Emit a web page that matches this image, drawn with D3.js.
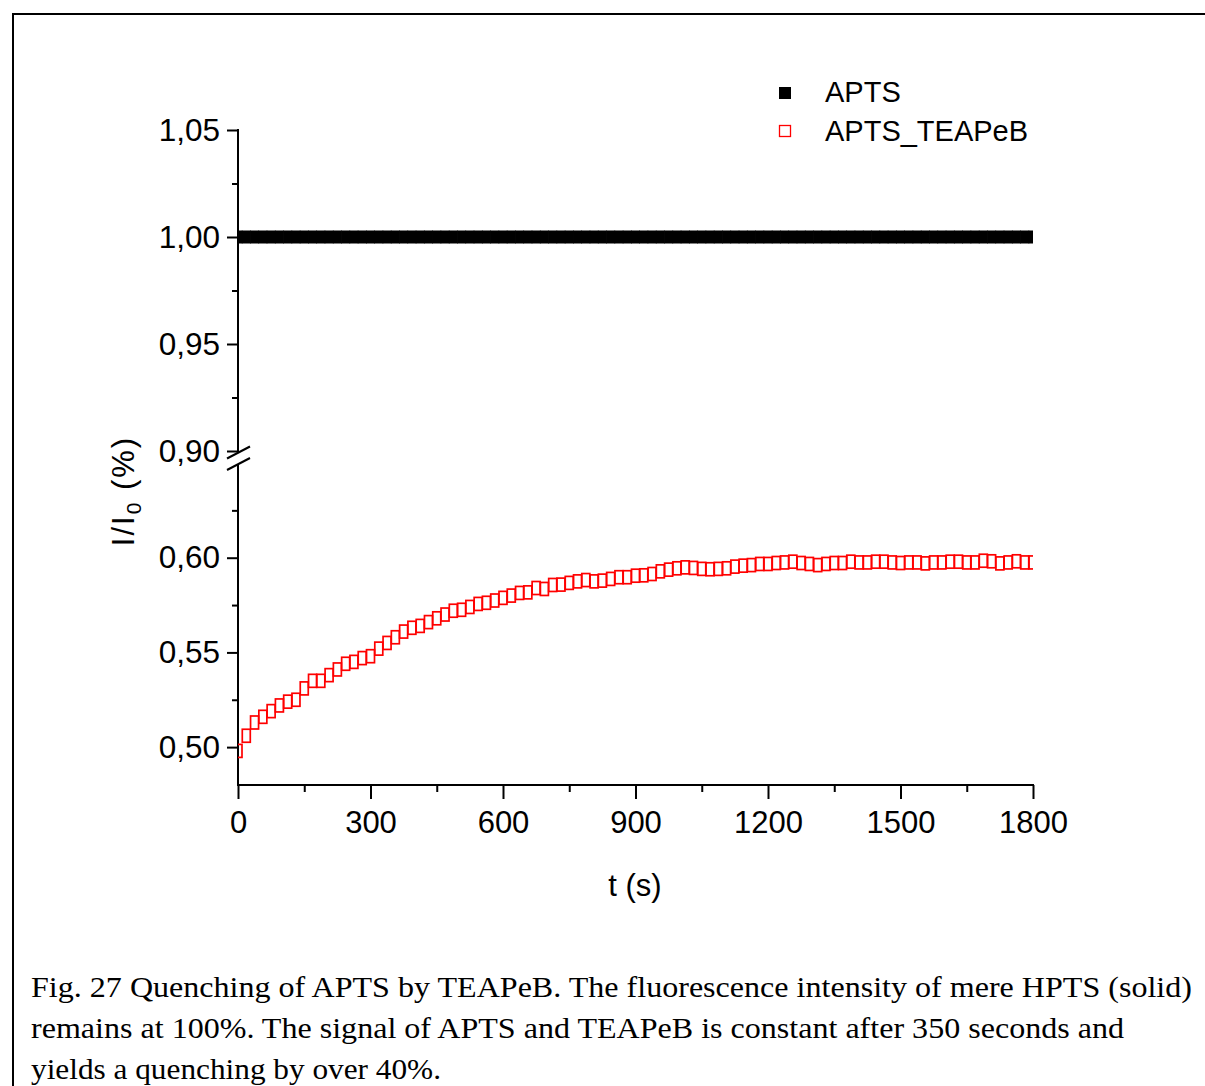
<!DOCTYPE html>
<html>
<head>
<meta charset="utf-8">
<script src="https://cdn.jsdelivr.net/npm/d3@7"></script>
<style>
  html, body { margin: 0; padding: 0; background: #fff; }
  svg { display: block; }
  .axis text { font-family: "Liberation Sans", Arial, sans-serif; font-size: 31.5px; fill: #000; }
  .axis line, .axis path { stroke: #000; stroke-width: 2; }
</style>
</head>
<body>
<svg id="chart" width="1205" height="1086"></svg>
<script>
// Sampling times (s)
const times = [0, 18.75, 37.5, 56.25, 75, 93.75, 112.5, 131.25, 150, 168.75, 187.5, 206.25, 225, 243.75, 262.5, 281.25, 300, 318.75, 337.5, 356.25, 375, 393.75, 412.5, 431.25, 450, 468.75, 487.5, 506.25, 525, 543.75, 562.5, 581.25, 600, 618.75, 637.5, 656.25, 675, 693.75, 712.5, 731.25, 750, 768.75, 787.5, 806.25, 825, 843.75, 862.5, 881.25, 900, 918.75, 937.5, 956.25, 975, 993.75, 1012.5, 1031.25, 1050, 1068.75, 1087.5, 1106.25, 1125, 1143.75, 1162.5, 1181.25, 1200, 1218.75, 1237.5, 1256.25, 1275, 1293.75, 1312.5, 1331.25, 1350, 1368.75, 1387.5, 1406.25, 1425, 1443.75, 1462.5, 1481.25, 1500, 1518.75, 1537.5, 1556.25, 1575, 1593.75, 1612.5, 1631.25, 1650, 1668.75, 1687.5, 1706.25, 1725, 1743.75, 1762.5, 1781.25, 1800];

// APTS alone: relative intensity I/I0
const aptsValues = [1.00, 1.00, 1.00, 1.00, 1.00, 1.00, 1.00, 1.00, 1.00, 1.00, 1.00, 1.00, 1.00, 1.00, 1.00, 1.00, 1.00, 1.00, 1.00, 1.00, 1.00, 1.00, 1.00, 1.00, 1.00, 1.00, 1.00, 1.00, 1.00, 1.00, 1.00, 1.00, 1.00, 1.00, 1.00, 1.00, 1.00, 1.00, 1.00, 1.00, 1.00, 1.00, 1.00, 1.00, 1.00, 1.00, 1.00, 1.00, 1.00, 1.00, 1.00, 1.00, 1.00, 1.00, 1.00, 1.00, 1.00, 1.00, 1.00, 1.00, 1.00, 1.00, 1.00, 1.00, 1.00, 1.00, 1.00, 1.00, 1.00, 1.00, 1.00, 1.00, 1.00, 1.00, 1.00, 1.00, 1.00, 1.00, 1.00, 1.00, 1.00, 1.00, 1.00, 1.00, 1.00, 1.00, 1.00, 1.00, 1.00, 1.00, 1.00, 1.00, 1.00, 1.00, 1.00, 1.00, 1.00];

// APTS with TEAPeB: relative intensity I/I0
const teapebValues = [0.498, 0.506, 0.513, 0.516, 0.519, 0.522, 0.524, 0.525, 0.531, 0.535, 0.535, 0.538, 0.541, 0.544, 0.545, 0.547, 0.548, 0.552, 0.555, 0.558, 0.561, 0.563, 0.564, 0.566, 0.568, 0.570, 0.572, 0.5725, 0.574, 0.5756, 0.5762, 0.5774, 0.5788, 0.580, 0.5814, 0.5817, 0.584, 0.5835, 0.5856, 0.5858, 0.5867, 0.5875, 0.5882, 0.5875, 0.5879, 0.5888, 0.5897, 0.5897, 0.5905, 0.5907, 0.5914, 0.5928, 0.5937, 0.5944, 0.5949, 0.5946, 0.5941, 0.5939, 0.5941, 0.5944, 0.5953, 0.5958, 0.5961, 0.5967, 0.5967, 0.5972, 0.5975, 0.5979, 0.5972, 0.5967, 0.5961, 0.5967, 0.5972, 0.5972, 0.5979, 0.5975, 0.5975, 0.5979, 0.5979, 0.5975, 0.5972, 0.5975, 0.5975, 0.597, 0.5975, 0.5975, 0.5979, 0.5979, 0.5975, 0.5975, 0.5984, 0.5981, 0.597, 0.5975, 0.5981, 0.5975, 0.5975];

// Axis ticks
const xMajorTicks = [0, 300, 600, 900, 1200, 1500, 1800];
const xMinorTicks = [150, 450, 750, 1050, 1350, 1650];
const yUpperMajor = [0.90, 0.95, 1.00, 1.05];
const yUpperMinor = [0.925, 0.975, 1.025];
const yLowerMajor = [0.50, 0.55, 0.60];
const yLowerMinor = [0.525, 0.575, 0.625];

const seriesNames = ["APTS", "APTS_TEAPeB"];
const captionLines = [
  "Fig. 27 Quenching of APTS by TEAPeB. The fluorescence intensity of mere HPTS (solid)",
  "remains at 100%. The signal of APTS and TEAPeB is constant after 350 seconds and",
  "yields a quenching by over 40%."
];

const svg = d3.select("#chart");
const FONT = '"Liberation Sans", Arial, sans-serif';

// Outer frame
svg.append("rect")
  .attr("x", 13).attr("y", 14).attr("width", 1230).attr("height", 1200)
  .attr("fill", "none").attr("stroke", "#000").attr("stroke-width", 2);

// Scales: broken y axis with an upper and a lower segment
const x = d3.scaleLinear().domain([0, 1800]).range([238, 1033]);
const yUp = d3.scaleLinear().domain([0.90, 1.05]).range([451, 130]);
const yLo = d3.scaleLinear().domain([0.48, 0.65]).range([785, 463]);
const fmt = v => d3.format(".2f")(v).replace(".", ",");

// X axis
const gx = svg.append("g").attr("class", "axis").attr("transform", "translate(0,785)");
gx.call(d3.axisBottom(x).tickValues(xMajorTicks).tickSize(14).tickPadding(12).tickFormat(d3.format("d")));
gx.select(".domain").remove();
gx.selectAll("text").style("font-size", "31px");
const gx2 = svg.append("g").attr("class", "axis").attr("transform", "translate(0,785)");
gx2.call(d3.axisBottom(x).tickValues(xMinorTicks).tickSize(7).tickFormat(""));
gx2.select(".domain").remove();
svg.append("line").attr("x1", 237).attr("x2", 1034).attr("y1", 785).attr("y2", 785)
  .attr("stroke", "#000").attr("stroke-width", 2);

// Y axis, upper segment
const gyu = svg.append("g").attr("class", "axis").attr("transform", "translate(238,0)");
gyu.call(d3.axisLeft(yUp).tickValues(yUpperMajor).tickSize(11).tickPadding(7).tickFormat(fmt));
gyu.select(".domain").remove();
const gyu2 = svg.append("g").attr("class", "axis").attr("transform", "translate(238,0)");
gyu2.call(d3.axisLeft(yUp).tickValues(yUpperMinor).tickSize(6).tickFormat(""));
gyu2.select(".domain").remove();

// Y axis, lower segment
const gyl = svg.append("g").attr("class", "axis").attr("transform", "translate(238,0)");
gyl.call(d3.axisLeft(yLo).tickValues(yLowerMajor).tickSize(11).tickPadding(7).tickFormat(fmt));
gyl.select(".domain").remove();
const gyl2 = svg.append("g").attr("class", "axis").attr("transform", "translate(238,0)");
gyl2.call(d3.axisLeft(yLo).tickValues(yLowerMinor).tickSize(6).tickFormat(""));
gyl2.select(".domain").remove();

// Y axis lines with a gap at the break
svg.append("line").attr("x1", 238).attr("x2", 238).attr("y1", yUp(1.05) - 1).attr("y2", 453)
  .attr("stroke", "#000").attr("stroke-width", 2);
svg.append("line").attr("x1", 238).attr("x2", 238).attr("y1", 464).attr("y2", 786)
  .attr("stroke", "#000").attr("stroke-width", 2);
// Break marks
[[227, 458.5, 250, 446.5], [227, 470, 250, 458]].forEach(s => {
  svg.append("line").attr("x1", s[0]).attr("y1", s[1]).attr("x2", s[2]).attr("y2", s[3])
    .attr("stroke", "#000").attr("stroke-width", 2);
});

// Axis titles
svg.append("text").attr("x", 635).attr("y", 896).attr("text-anchor", "middle")
  .attr("font-family", FONT).attr("font-size", 31).text("t (s)");
const yt = svg.append("text").attr("transform", "translate(134,491) rotate(-90)")
  .attr("text-anchor", "middle").attr("font-family", FONT).attr("font-size", 31)
  .attr("letter-spacing", 2);
yt.append("tspan").text("I/I");
yt.append("tspan").attr("font-size", 21).attr("dy", 7).text("0");
yt.append("tspan").attr("dy", -7).text(" (%)");

// Plot area clip
svg.append("clipPath").attr("id", "plotClip").append("rect")
  .attr("x", 238).attr("y", 100).attr("width", 795).attr("height", 685);

const apts = times.map((t, i) => ({ t, v: aptsValues[i] }));
const teapeb = times.map((t, i) => ({ t, v: teapebValues[i] }));

const plot = svg.append("g").attr("clip-path", "url(#plotClip)");
// APTS: filled black squares
plot.append("g").selectAll("rect").data(apts).join("rect")
  .attr("x", d => x(d.t) - 4.5).attr("y", d => yUp(d.v) - 6.5)
  .attr("width", 9).attr("height", 13).attr("fill", "#000");
// APTS_TEAPeB: open red squares
plot.append("g").selectAll("rect").data(teapeb).join("rect")
  .attr("x", d => x(d.t) - 4).attr("y", d => yLo(d.v) - 6.5)
  .attr("width", 8).attr("height", 13)
  .attr("fill", "none").attr("stroke", "#ff0000").attr("stroke-width", 1.7);

// Legend
const leg = svg.append("g");
leg.append("rect").attr("x", 779).attr("y", 87).attr("width", 12).attr("height", 12).attr("fill", "#000");
leg.append("rect").attr("x", 779.5).attr("y", 125.5).attr("width", 11).attr("height", 11)
  .attr("fill", "none").attr("stroke", "#ff0000").attr("stroke-width", 1.3);
leg.selectAll("text").data(seriesNames).join("text")
  .attr("x", 825).attr("y", (d, i) => 102 + i * 39)
  .attr("font-family", FONT).attr("font-size", 29).text(d => d);

// Caption
const capWidths = [1161, 1093, 410];
svg.append("g").selectAll("text").data(captionLines).join("text")
  .attr("x", 31).attr("y", (d, i) => 997 + i * 41)
  .attr("font-family", '"Liberation Serif", "Times New Roman", serif')
  .attr("font-size", 30)
  .attr("textLength", (d, i) => capWidths[i])
  .attr("lengthAdjust", "spacingAndGlyphs")
  .text(d => d);
</script>
</body>
</html>
